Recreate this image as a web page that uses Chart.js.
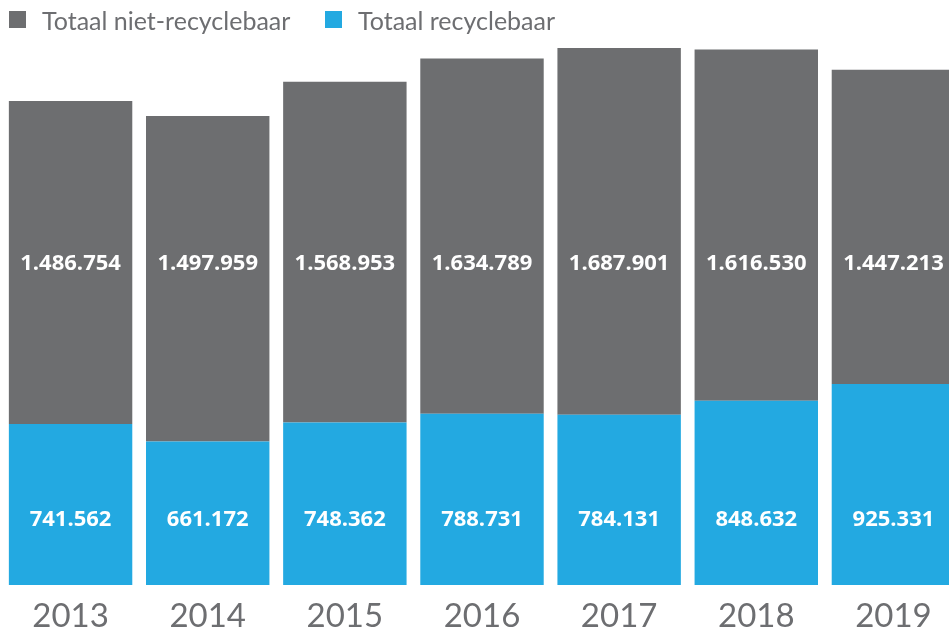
<!DOCTYPE html>
<html><head><meta charset="utf-8">
<script src="https://cdn.jsdelivr.net/npm/chart.js@4/dist/chart.umd.min.js"></script>
<style>
html,body{margin:0;padding:0;overflow:hidden;background:#fff;width:949px;height:632px;}
#wrap{position:relative;width:964px;height:648px;}
#legend{position:absolute;left:0;top:0;height:40px;font-family:Lato,"Open Sans",sans-serif;font-size:25px;color:#6d6e71;}
.item{position:absolute;top:5px;white-space:nowrap;line-height:30px;}
.sw{position:absolute;top:6px;width:17px;height:17px;}
.lbl{position:absolute;left:33px;top:0;}
</style></head><body>
<div id="wrap">
<canvas id="c" width="964" height="648"></canvas>
<div id="legend"></div>
</div>
<script>
const years = ['2013', '2014', '2015', '2016', '2017', '2018', '2019'];
const nietRecyclebaar = [1486754, 1497959, 1568953, 1634789, 1687901, 1616530, 1447213];
const recyclebaar = [741562, 661172, 748362, 788731, 784131, 848632, 925331];
const seriesNames = ['Totaal niet-recyclebaar', 'Totaal recyclebaar'];

const GREY = '#6d6e70';
const BLUE = '#23a9e1';
const Y_MAX = 2500000;
// value levels on the y scale where the in-bar labels sit (same level for every bar)
const LABEL_LEVEL_RECYCLEBAAR = 302000;
const LABEL_LEVEL_NIET = 1477000;

function fmt(v){ return String(v).replace(/\B(?=(\d{3})+(?!\d))/g, '.'); }

// HTML legend
const legendEl = document.getElementById('legend');
[[seriesNames[0], GREY, 9], [seriesNames[1], BLUE, 325]].forEach(([name, col, left]) => {
  const it = document.createElement('div');
  it.className = 'item'; it.style.left = left + 'px';
  it.innerHTML = '<span class="sw" style="background:' + col + '"></span><span class="lbl">' + name + '</span>';
  legendEl.appendChild(it);
});

const labelPlugin = {
  id: 'fixedLabels',
  afterDatasetsDraw(chart) {
    const {ctx} = chart;
    const y = chart.scales.y;
    const levels = [LABEL_LEVEL_RECYCLEBAAR, LABEL_LEVEL_NIET];
    ctx.save();
    ctx.fillStyle = '#ffffff';
    ctx.font = 'bold 22px "Open Sans", sans-serif';
    ctx.textAlign = 'center';
    ctx.textBaseline = 'middle';
    chart.data.datasets.forEach((ds, i) => {
      const meta = chart.getDatasetMeta(i);
      const py = y.getPixelForValue(levels[i]);
      meta.data.forEach((bar, j) => ctx.fillText(fmt(ds.data[j]), bar.x, py));
    });
    ctx.restore();
  }
};

new Chart(document.getElementById('c'), {
  type: 'bar',
  data: {
    labels: years,
    datasets: [
      {label: seriesNames[1], data: recyclebaar, backgroundColor: BLUE, borderWidth: 0},
      {label: seriesNames[0], data: nietRecyclebaar, backgroundColor: GREY, borderWidth: 0}
    ]
  },
  options: {
    responsive: false,
    animation: false,
    layout: {padding: {top: 42, left: 2, right: 2, bottom: 0}},
    datasets: {bar: {barPercentage: 0.9, categoryPercentage: 1.0}},
    plugins: {legend: {display: false}, tooltip: {enabled: false}},
    scales: {
      x: {
        stacked: true,
        grid: {display: false, drawTicks: false},
        border: {display: false},
        ticks: {
          color: '#6d6e71',
          padding: 15,
          font: {family: 'Lato, sans-serif', size: 33, lineHeight: 1}
        }
      },
      y: {stacked: true, display: false, min: 0, max: Y_MAX}
    }
  },
  plugins: [labelPlugin]
});
</script>
</body></html>
